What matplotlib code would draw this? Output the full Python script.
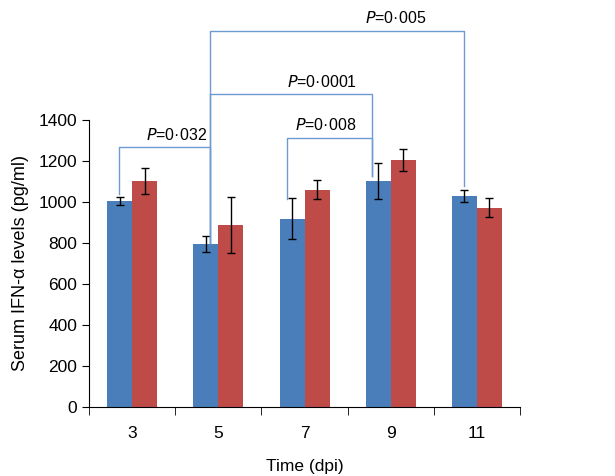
import matplotlib.pyplot as plt
import numpy as np

plt.rcParams['font.family'] = ['Liberation Sans', 'DejaVu Sans']

days = ['3', '5', '7', '9', '11']
blue_vals = [1005, 795, 917, 1102, 1029]
blue_err = [20, 40, 100, 88, 28]
red_vals = [1102, 888, 1060, 1205, 971]
red_err = [62, 135, 46, 54, 46]

# brackets: (from group, to group, height, label, label x)
brackets = [
    (0, 1, 1268, '0·032', 0.51),
    (2, 3, 1312, '0·008', 2.25),
    (1, 3, 1525, '0·0001', 2.20),
    (1, 4, 1834, '0·005', 3.06),
]
drop_ends = {0: 1040, 1: 800, 2: 1015, 3: 1128, 4: 1080}

fig = plt.figure(figsize=(6.15, 4.76), dpi=100)
ax = fig.add_axes([0.1447, 0.145, 0.701, 0.603])

x = np.arange(len(days))
w = 0.29
ax.bar(x - w / 2, blue_vals, w, color='#4a7ebb', zorder=2)
ax.bar(x + w / 2, red_vals, w, color='#be4b48', zorder=2)
ax.errorbar(x - w / 2, blue_vals, yerr=blue_err, fmt='none', ecolor='black',
            elinewidth=1, capsize=3, capthick=1, zorder=3)
ax.errorbar(x + w / 2, red_vals, yerr=red_err, fmt='none', ecolor='black',
            elinewidth=1, capsize=3, capthick=1, zorder=3)

offs = [-0.01, 0.05, -0.06, -0.07, 0.0]
for a, b, h, lab, lx in brackets:
    xa = x[a] - w / 2 + offs[a]
    xb = x[b] - w / 2 + offs[b]
    ax.plot([xa, xa, xb, xb], [drop_ends[a], h, h, drop_ends[b]],
            color='#6b9bd2', lw=1, clip_on=False, zorder=4)
    ax.text(lx, h + 22, '$P$=' + lab,
            ha='center', va='bottom', fontsize=11.5, clip_on=False)

ax.set_xlim(-0.5, 4.5)
ax.set_ylim(0, 1400)
ax.set_yticks(range(0, 1401, 200))
ax.set_xticks(x)
ax.set_xticklabels(days)
ax.set_xticks(np.arange(-0.5, 4.6, 1), minor=True)
ax.tick_params(axis='x', which='major', length=0, pad=14, labelsize=12.5)
ax.tick_params(axis='x', which='minor', length=6, direction='out')
ax.tick_params(axis='y', length=5, direction='out', labelsize=12.5)
for s in ['top', 'right']:
    ax.spines[s].set_visible(False)
ax.set_xlabel('Time (dpi)', fontsize=12.5, labelpad=13)
ax.set_ylabel('Serum IFN-α levels (pg/ml)', fontsize=13, labelpad=7)

fig.savefig('out.png', dpi=100)
